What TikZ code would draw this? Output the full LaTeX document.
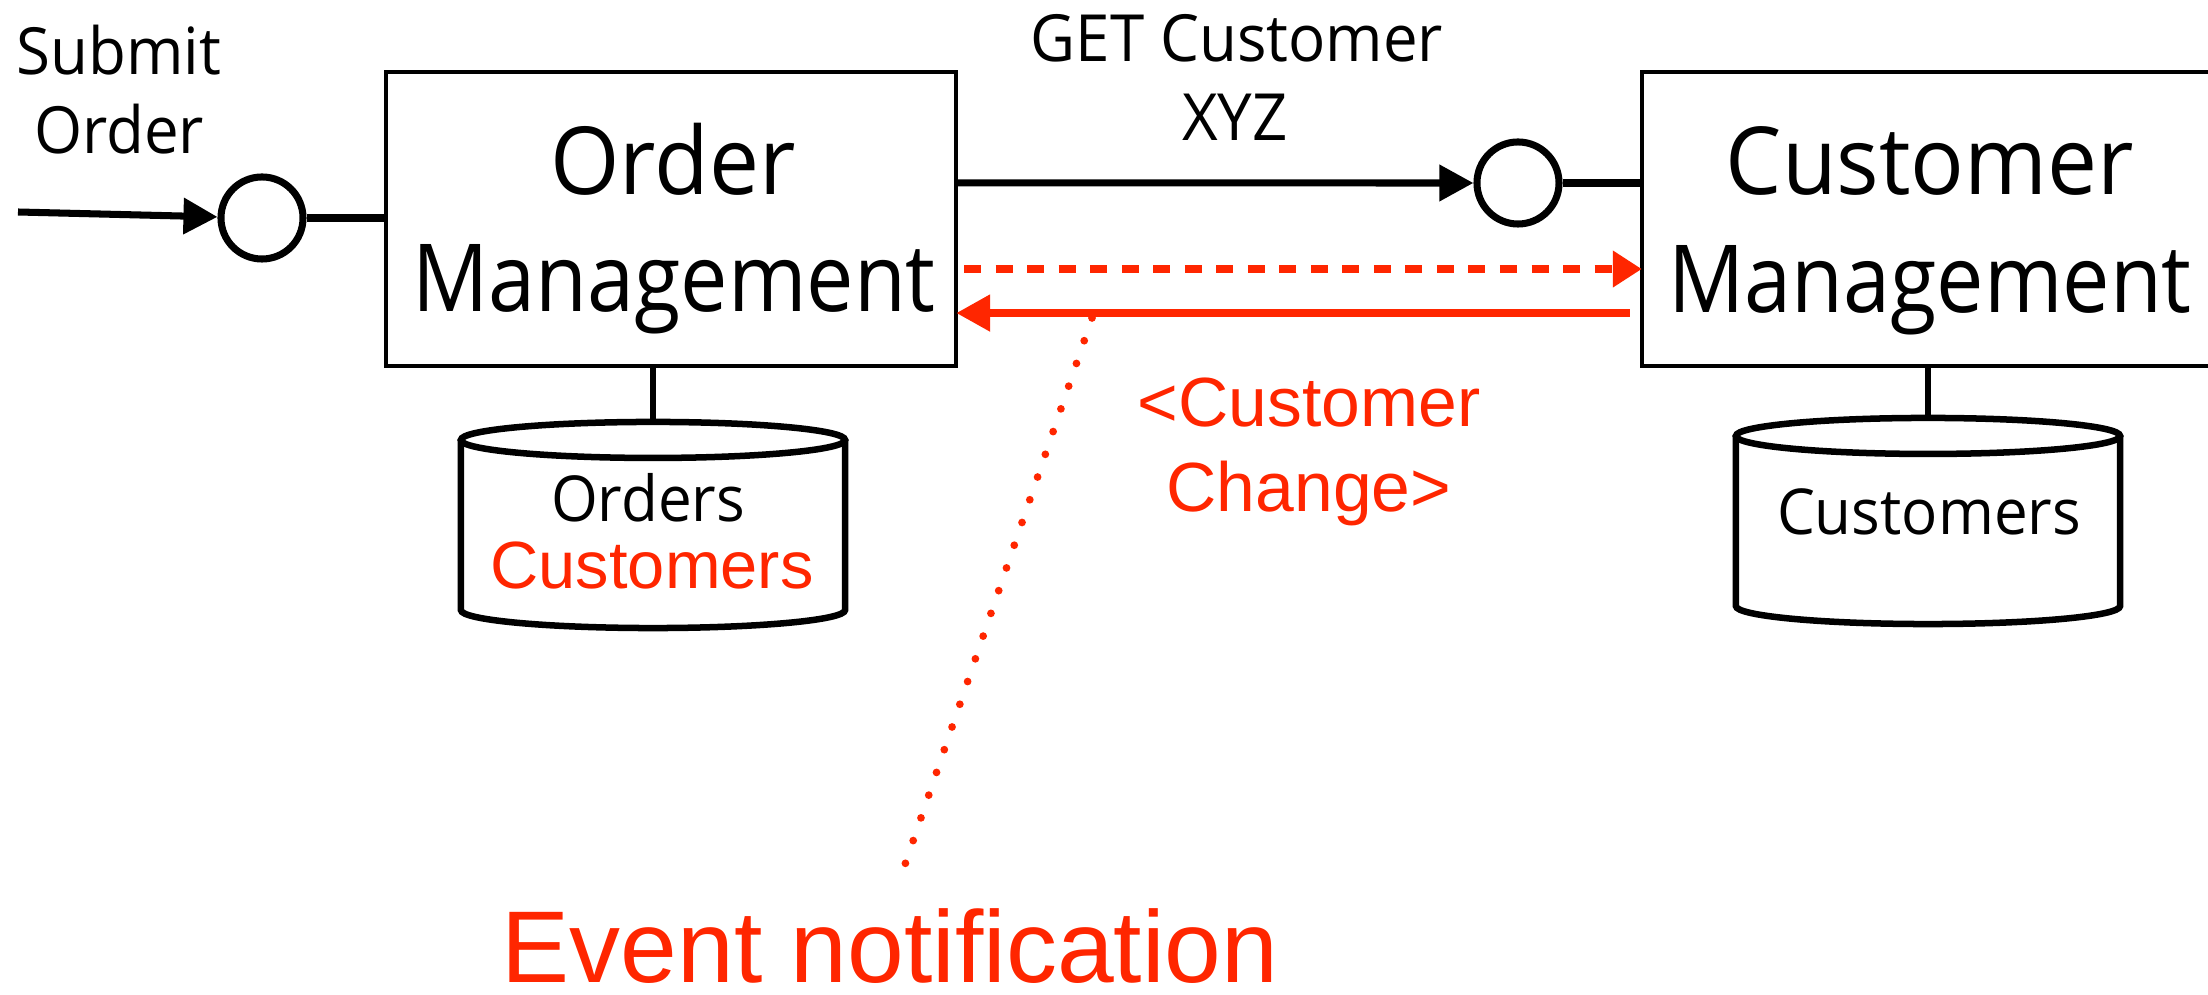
\documentclass[tikz,border=0pt]{standalone}
\usepackage{fontspec}
\usetikzlibrary{arrows.meta}

\newfontfamily\gillface[FakeStretch=0.95]{Open Sans}
\newfontfamily\gillnarrow[FakeStretch=0.90]{Open Sans}
\newfontfamily\helvface{Liberation Sans}
\definecolor{alert}{RGB}{255,38,0}

% database drum drawn on the frame of an invisible rectangle node
\newcommand{\dbdraw}[1]{%
  \draw[dbline] ([yshift=-0.18cm]#1.north west) -- ([yshift=0.18cm]#1.south west)
    arc[start angle=180, end angle=360, x radius=1.92cm, y radius=0.18cm]
    -- ([yshift=-0.18cm]#1.north east);
  \draw[dbline] ([yshift=-0.18cm]#1.north) ellipse[x radius=1.92cm, y radius=0.18cm];
}

\tikzset{
  service/.style={draw, line width=1.3pt, fill=white, minimum width=#1,
    minimum height=2.94cm, inner sep=0pt, outer sep=0pt},
  port/.style={circle, draw, line width=2pt, fill=white, minimum size=0.82cm,
    inner sep=0pt},
  dbframe/.style={rectangle, minimum width=3.84cm, minimum height=2.06cm,
    inner sep=0pt, outer sep=0pt},
  dbline/.style={line width=1.85pt},
  smalltxt/.style={font=\gillface\fontsize{18.5pt}{22pt}\selectfont,
    inner sep=0pt, anchor=base},
  dbtxt/.style={font=\gillface\fontsize{18pt}{22pt}\selectfont,
    inner sep=0pt, anchor=base},
  bigtxt/.style={font=\gillface\fontsize{26.7pt}{32pt}\selectfont,
    inner sep=0pt, anchor=base},
  bignarrow/.style={font=\gillnarrow\fontsize{26.7pt}{32pt}\selectfont,
    inner sep=0pt, anchor=base},
  redtxt/.style={text=alert, font=\helvface\fontsize{19.8pt}{24pt}\selectfont,
    inner sep=0pt, anchor=base},
  reddb/.style={text=alert, font=\helvface\fontsize{19pt}{23pt}\selectfont,
    inner sep=0pt, anchor=base},
  hugered/.style={text=alert, font=\helvface\fontsize{29pt}{35pt}\selectfont,
    inner sep=0pt, anchor=base},
  link/.style={line width=2pt},
  call/.style={line width=2pt, -{Triangle[length=0.34cm, width=0.35cm]}},
  notify/.style={draw=alert, line width=2.3pt,
    -{Triangle[length=0.34cm, width=0.35cm, fill=alert]}},
  notifydash/.style={draw=alert, line width=2.5pt,
    dash pattern=on 0.17cm off 0.145cm,
    -{Triangle[length=0.29cm, width=0.35cm, fill=alert]}},
  pointer/.style={draw=alert, line width=2.2pt, line cap=round,
    dash pattern=on 0pt off 0.24cm},
}

\begin{document}
\begin{tikzpicture}[x=0.01cm, y=-0.01cm]
  \useasboundingbox (0,0) rectangle (2208,995);
  \clip (0,0) rectangle (2208,995);
  \fill[white] (0,0) rectangle (2208,995);

  % services
  \node[service=5.70cm] (om) at (671,219) {};
  \node[service=5.76cm] (cm) at (1930,219) {};

  \node[bigtxt] (omA) at (673,195) {Order};
  \node[bignarrow] (omB) at (674,312) {Management};
  \node[bigtxt] (cmA) at (1930,195) {Customer};
  \node[bignarrow] (cmB) at (1930,313) {Management};

  % ports
  \node[port] (p1) at (262,218) {};
  \node[port] (p2) at (1518,183) {};

  % databases
  \node[dbframe] (odb) at (653,525) {};
  \node[dbframe] (cdb) at (1928,521) {};
  \dbdraw{odb}
  \dbdraw{cdb}
  \node[dbtxt] (odbA) at (648,522) {Orders};
  \node[reddb] (odbB) at (652,589) {Customers};
  \node[dbtxt] (cdbA) at (1929,535) {Customers};

  % labels
  \node[smalltxt] (subA) at (119,75) {Submit};
  \node[smalltxt] (subB) at (119,154) {Order};
  \node[smalltxt] (getA) at (1237,62) {GET Customer};
  \node[smalltxt] (getB) at (1235,141) {XYZ};
  \node[redtxt] (chgA) at (1309,427) {<Customer};
  \node[redtxt] (chgB) at (1309,512) {Change>};
  \node[hugered] (ev) at (890,983) {Event notification};

  % connectors
  \coordinate (src) at (18,212);
  \draw[call] (src) -- (p1);
  \draw[link] (p1.east) -- (p1.east -| om.west);
  \draw[call] ([yshift=0.36cm]om.east) -- (p2.west);
  \draw[link] (p2.east) -- (p2.east -| cm.west);
  \draw[line width=1.6pt] (odb.north) -- (odb.north |- om.south);
  \draw[line width=1.6pt] (cdb.north) -- (cdb.north |- cm.south);

  \draw[notifydash, shorten <=0.08cm] ([yshift=-0.5cm]om.east) -- ([yshift=-0.5cm]cm.west);
  \draw[notify] ([yshift=-0.94cm, xshift=-0.12cm]cm.west) -- ([yshift=-0.94cm]om.east);

  \coordinate (evtop) at (1092,318);
  \coordinate (evbot) at (898,885);
  \draw[pointer] (evtop) -- (evbot);
\end{tikzpicture}
\end{document}
